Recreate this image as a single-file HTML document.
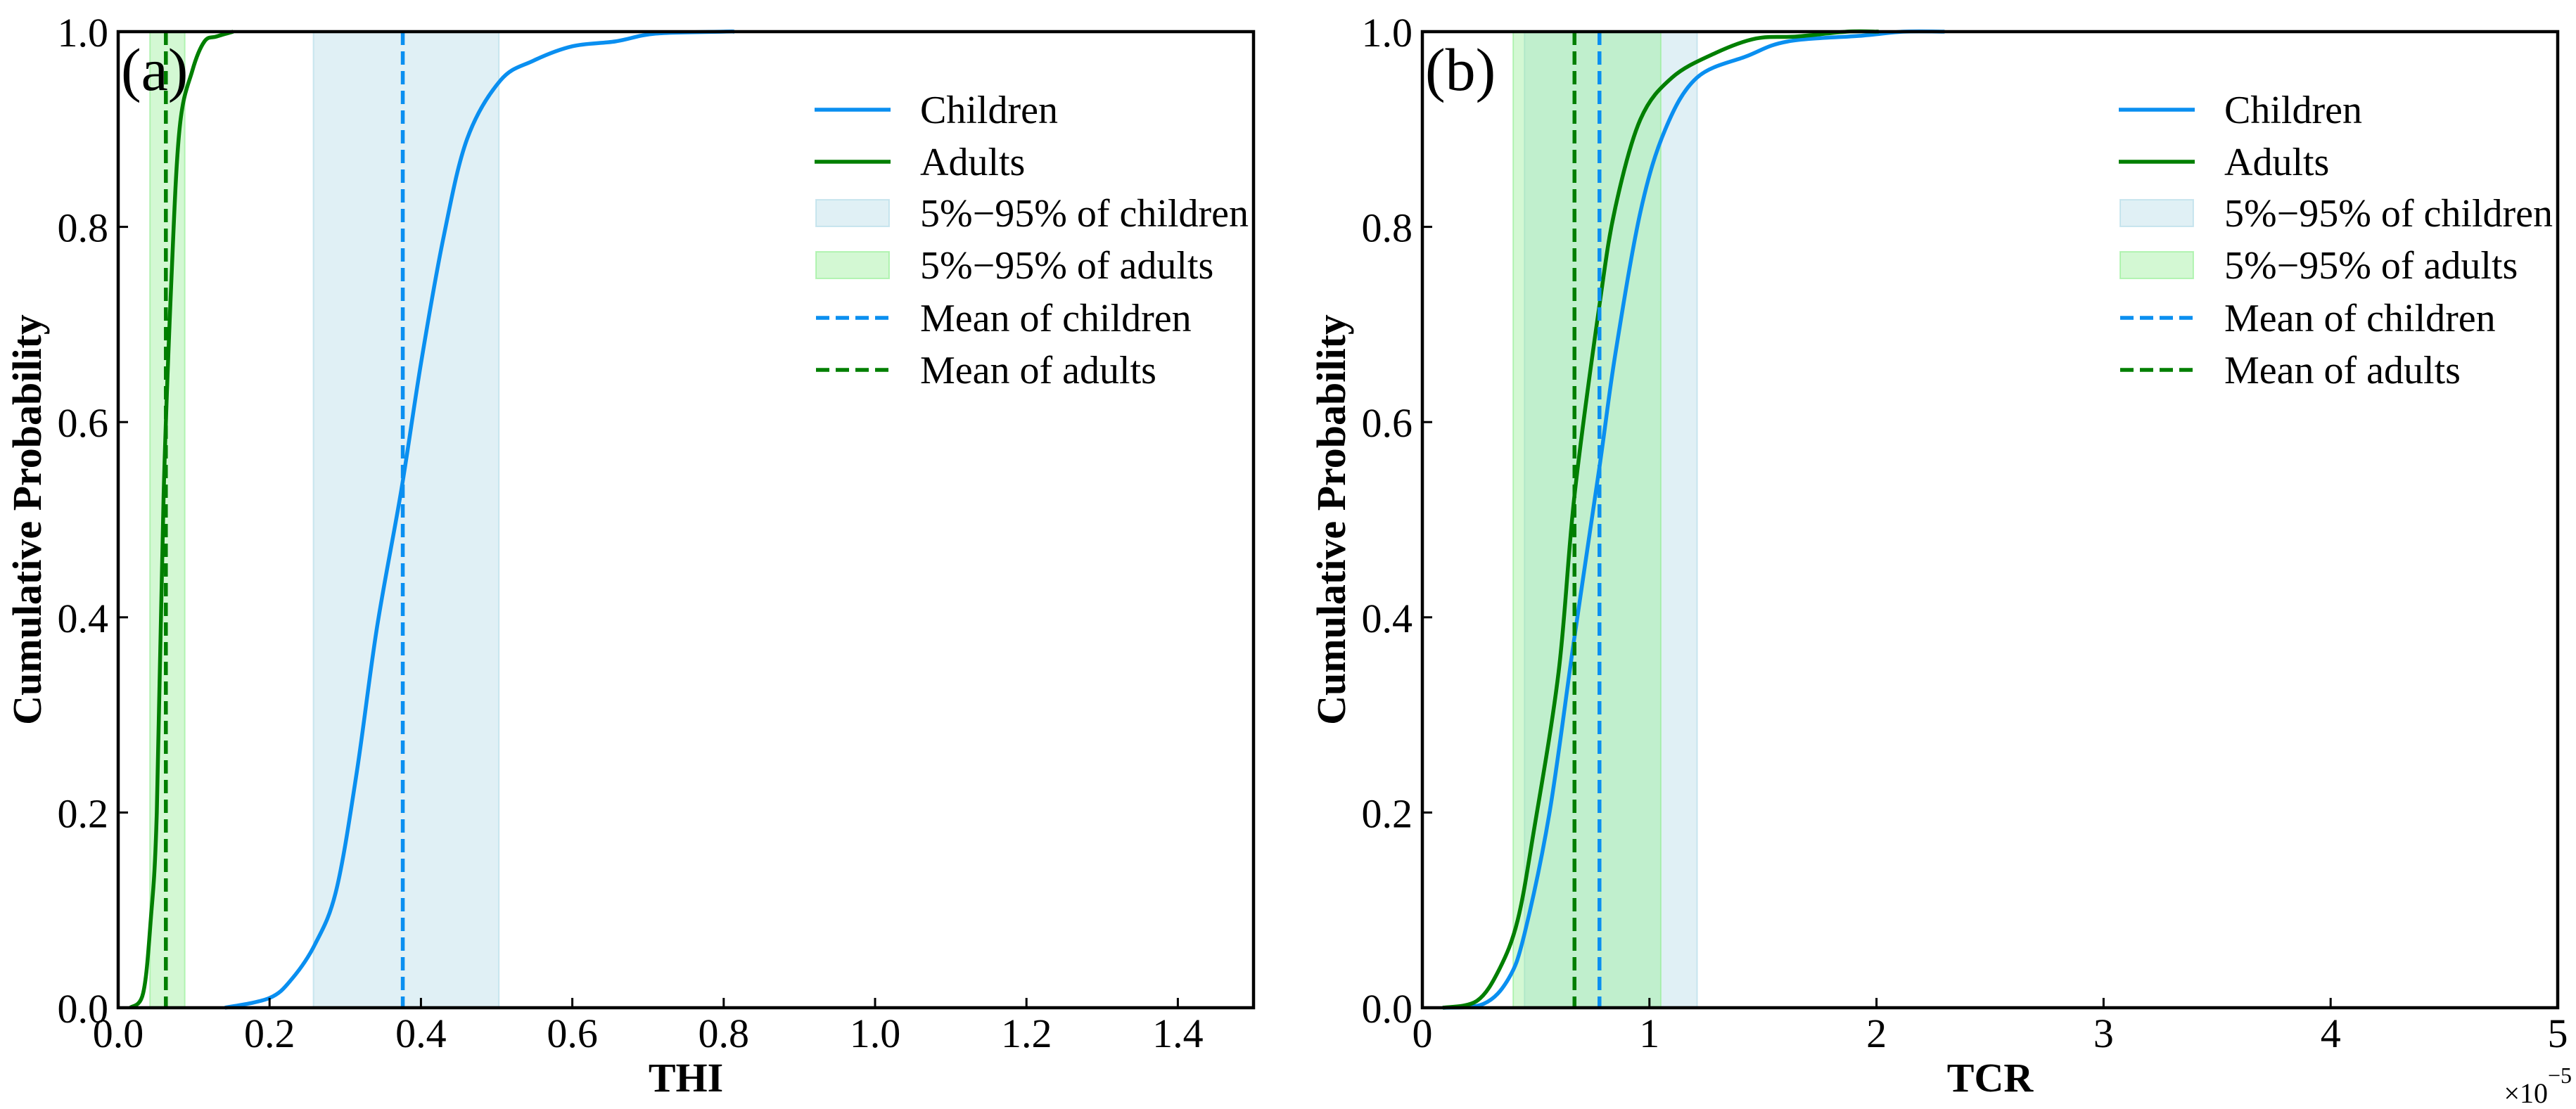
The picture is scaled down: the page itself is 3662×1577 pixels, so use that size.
<!DOCTYPE html>
<html><head><meta charset="utf-8"><title>Cumulative Probability</title>
<style>
html,body{margin:0;padding:0;background:#fff;}
svg{display:block;font-family:"Liberation Serif",serif;}
</style></head>
<body>
<svg id="chart" width="3662" height="1577" viewBox="0 0 3662 1577" xmlns="http://www.w3.org/2000/svg"></svg>
<script>
// ---- Panel (a) THI data ----
const thiChildX = [0.141,0.2,0.23,0.26,0.288,0.315,0.342,0.374,0.40,0.43,0.461,0.505,0.548,0.60,0.657,0.71,0.80,0.814];
const thiChildY = [0,0.01,0.03,0.065,0.12,0.24,0.39,0.53,0.66,0.79,0.89,0.95,0.97,0.985,0.99,0.998,1.0,1.0];
const thiAdultX = [0.016,0.033,0.043,0.051,0.06,0.07,0.081,0.098,0.114,0.13,0.152];
const thiAdultY = [0,0.015,0.09,0.2,0.525,0.74,0.9,0.96,0.99,0.995,1.0];
const thiChildSpan = [0.258,0.503];
const thiAdultSpan = [0.042,0.088];
const thiChildMean = 0.376;
const thiAdultMean = 0.063;
const thiTicks = ["0.0","0.2","0.4","0.6","0.8","1.0","1.2","1.4"];
// ---- Panel (b) TCR data (x in 1e-5) ----
const tcrChildX = [0.09,0.27,0.38,0.45,0.56,0.67,0.78,0.85,0.96,1.07,1.21,1.43,1.61,1.94,2.12,2.3];
const tcrChildY = [0,0.004,0.03,0.076,0.2,0.38,0.554,0.67,0.815,0.9,0.953,0.975,0.99,0.996,1.0,1.0];
const tcrAdultX = [0.09,0.24,0.34,0.42,0.49,0.6,0.67,0.78,0.85,0.96,1.1,1.29,1.47,1.65,1.87,2.01];
const tcrAdultY = [0,0.007,0.04,0.09,0.18,0.344,0.525,0.72,0.82,0.91,0.953,0.978,0.993,0.995,1.0,1.0];
const tcrChildSpan = [0.45,1.21];
const tcrAdultSpan = [0.40,1.05];
const tcrChildMean = 0.78;
const tcrAdultMean = 0.67;
const tcrTicks = ["0","1","2","3","4","5"];
const yTicks = ["0.0","0.2","0.4","0.6","0.8","1.0"];
const legendLabels = ["Children","Adults","5%\u221295% of children","5%\u221295% of adults","Mean of children","Mean of adults"];

const NS="http://www.w3.org/2000/svg";
const svg=document.getElementById('chart');
const BLUE="#0a8ff0", GREEN="#007f00";
function mk(tag,parent,attrs){const e=document.createElementNS(NS,tag);for(const k in attrs)e.setAttribute(k,attrs[k]);parent.appendChild(e);return e;}

function smoothPath(pts){
  let d="M"+pts[0][0].toFixed(1)+","+pts[0][1].toFixed(1);
  for(let i=0;i<pts.length-1;i++){
    const p0=pts[Math.max(i-1,0)],p1=pts[i],p2=pts[i+1],p3=pts[Math.min(i+2,pts.length-1)];
    const c1x=p1[0]+(p2[0]-p0[0])/6,c1y=p1[1]+(p2[1]-p0[1])/6;
    const c2x=p2[0]-(p3[0]-p1[0])/6,c2y=p2[1]-(p3[1]-p1[1])/6;
    d+=" C"+c1x.toFixed(1)+","+c1y.toFixed(1)+" "+c2x.toFixed(1)+","+c2y.toFixed(1)+" "+p2[0].toFixed(1)+","+p2[1].toFixed(1);
  }
  return d;
}

function panel(cfg){
  const L=cfg.left,R=cfg.left+1614,T=45,B=1433;
  const xs=v=>L+(v-cfg.xmin)/(cfg.xmax-cfg.xmin)*(R-L);
  const ys=v=>B-v*(B-T);
  const g=mk('g',svg,{});
  
  
  const s1=mk('rect',g,{x:xs(cfg.childSpan[0]),y:T,width:xs(cfg.childSpan[1])-xs(cfg.childSpan[0]),height:B-T,fill:"#add8e6","fill-opacity":0.38,stroke:"#add8e6","stroke-opacity":0.6,"stroke-width":2});
  
  
  const s2=mk('rect',g,{x:xs(cfg.adultSpan[0]),y:T,width:xs(cfg.adultSpan[1])-xs(cfg.adultSpan[0]),height:B-T,fill:"#90ee90","fill-opacity":0.4,stroke:"#90ee90","stroke-opacity":0.6,"stroke-width":2});
  
  
  const c1=mk('path',g,{d:smoothPath(cfg.childX.map((x,i)=>[xs(x),ys(cfg.childY[i])])),fill:"none",stroke:BLUE,"stroke-width":5.5});
  
  
  const c2=mk('path',g,{d:smoothPath(cfg.adultX.map((x,i)=>[xs(x),ys(cfg.adultY[i])])),fill:"none",stroke:GREEN,"stroke-width":5.5});
  
  
  const m1=mk('line',g,{x1:xs(cfg.childMean),x2:xs(cfg.childMean),y1:T,y2:B,stroke:BLUE,"stroke-width":5.5,"stroke-dasharray":"19 9"});
  
  
  const m2=mk('line',g,{x1:xs(cfg.adultMean),x2:xs(cfg.adultMean),y1:T,y2:B,stroke:GREEN,"stroke-width":5.5,"stroke-dasharray":"19 9"});
  
  
  const fr=mk('rect',g,{x:L,y:T,width:R-L,height:B-T,fill:"none",stroke:"#000","stroke-width":4.5});
  
  
  cfg.ticks.forEach(t=>{
    const x=xs(parseFloat(t));
    const tk=mk('line',g,{x1:x,x2:x,y1:B,y2:B-14,stroke:"#000","stroke-width":3});
    
    
    const tl=mk('text',g,{x:x,y:1489,"font-size":58,"text-anchor":"middle",fill:"#000"});
    tl.textContent=t;
    
    
  });
  yTicks.forEach(t=>{
    const y=ys(parseFloat(t));
    const tk=mk('line',g,{x1:L,x2:L+14,y1:y,y2:y,stroke:"#000","stroke-width":3});
    
    
    const tl=mk('text',g,{x:L-14,y:y+21,"font-size":58,"text-anchor":"end",fill:"#000"});
    tl.textContent=t;
    
    
  });
  const xt=mk('text',g,{x:(L+R)/2,y:1552,"font-size":58,"font-weight":"bold","text-anchor":"middle",fill:"#000"});
  xt.textContent=cfg.xlabel;
  
  
  const yt=mk('text',g,{x:0,y:0,"font-size":58,"font-weight":"bold","text-anchor":"middle",fill:"#000",transform:"translate("+(L-110)+",739) rotate(-90)"});
  yt.textContent="Cumulative Probability";
  
  
  const pl=mk('text',g,{x:L+4,y:128,"font-size":86,fill:"#000"});
  pl.textContent=cfg.panel;
  
  
  if(cfg.offset){
    const ot=mk('text',g,{x:R-14,y:1568,"font-size":40,"text-anchor":"end",fill:"#000"});
    ot.textContent="\u00d710";
    
    
    const oe=mk('text',g,{x:R-14,y:1540,"font-size":32,fill:"#000"});
    oe.textContent="\u22125";
    
    
  }
  const lg=mk('g',g,{});
  
  
  const lx=L+990,rows=[156,230,303,377,452,526];
  legendLabels.forEach((lab,i)=>{
    const y=rows[i];
    let m;
    if(i===0||i===1){m=mk('line',lg,{x1:lx,x2:lx+108,y1:y,y2:y,stroke:i===0?BLUE:GREEN,"stroke-width":5.5});}
    else if(i===2){m=mk('rect',lg,{x:lx+2,y:y-19,width:104,height:38,fill:"#add8e6","fill-opacity":0.38,stroke:"#add8e6","stroke-opacity":0.6,"stroke-width":2});}
    else if(i===3){m=mk('rect',lg,{x:lx+2,y:y-19,width:104,height:38,fill:"#90ee90","fill-opacity":0.4,stroke:"#90ee90","stroke-opacity":0.6,"stroke-width":2});}
    else {m=mk('line',lg,{x1:lx+2,x2:lx+108,y1:y,y2:y,stroke:i===4?BLUE:GREEN,"stroke-width":5.5,"stroke-dasharray":"19 9"});}
    
    
    const t=mk('text',lg,{x:lx+150,y:y+19,"font-size":56,fill:"#000"});
    t.textContent=lab;
    
    
  });
}
panel({name:'thi-panel',left:168,xmin:0,xmax:1.5,childX:thiChildX,childY:thiChildY,adultX:thiAdultX,adultY:thiAdultY,childSpan:thiChildSpan,adultSpan:thiAdultSpan,childMean:thiChildMean,adultMean:thiAdultMean,ticks:thiTicks,xlabel:"THI",panel:"(a)",offset:false});
panel({name:'tcr-panel',left:2022,xmin:0,xmax:5,childX:tcrChildX,childY:tcrChildY,adultX:tcrAdultX,adultY:tcrAdultY,childSpan:tcrChildSpan,adultSpan:tcrAdultSpan,childMean:tcrChildMean,adultMean:tcrAdultMean,ticks:tcrTicks,xlabel:"TCR",panel:"(b)",offset:true});
</script>
</body></html>
